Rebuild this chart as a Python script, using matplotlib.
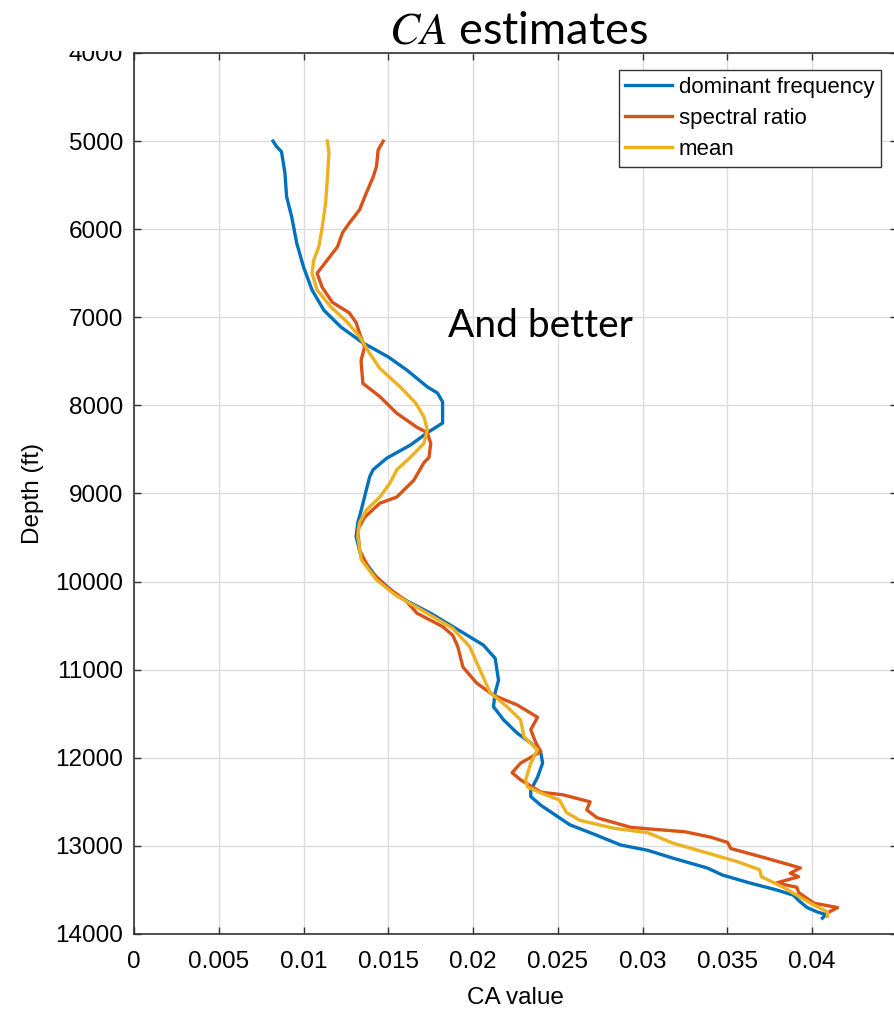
import matplotlib
matplotlib.use("Agg")
import matplotlib.pyplot as plt
from matplotlib.patches import Rectangle

plt.rcParams['font.family'] = ['Liberation Sans', 'DejaVu Sans']
plt.rcParams['mathtext.fontset'] = 'stix'

# dominant frequency (blue)
dom_depth = [5000, 5060, 5120, 5360, 5630, 5860, 6160, 6430, 6690, 6920, 7110, 7290,
             7450, 7600, 7790, 7860, 7960, 8090, 8200, 8310, 8450, 8600, 8730, 8810,
             8960, 9190, 9330, 9490, 9720, 9950, 10170, 10360, 10580, 10720, 10870,
             11120, 11260, 11420, 11570, 11720, 11830, 11950, 12060, 12220, 12370,
             12440, 12540, 12630, 12760, 12880, 12990, 13050, 13140, 13250, 13330,
             13420, 13500, 13560, 13620, 13700, 13750, 13780, 13820]
dom_ca = [0.0082, 0.0084, 0.0087, 0.0089, 0.0090, 0.0093, 0.0096, 0.0100, 0.0105, 0.0112,
          0.0122, 0.0135, 0.0150, 0.0161, 0.0173, 0.0179, 0.0182, 0.0182, 0.0182, 0.0173,
          0.0163, 0.0149, 0.0141, 0.0139, 0.0137, 0.0134, 0.0132, 0.0131, 0.0134, 0.0143,
          0.0156, 0.0175, 0.0194, 0.0206, 0.0213, 0.0215, 0.0213, 0.0212, 0.0218, 0.0226,
          0.0234, 0.0240, 0.0241, 0.0238, 0.0234, 0.0234, 0.0240, 0.0247, 0.0257, 0.0273,
          0.0287, 0.0303, 0.0318, 0.0338, 0.0347, 0.0363, 0.0379, 0.0389, 0.0392, 0.0397,
          0.0403, 0.0408, 0.0406]

# spectral ratio (red)
spec_depth = [5000, 5100, 5290, 5410, 5590, 5780, 5930, 6040, 6200, 6350, 6500, 6660,
              6830, 6950, 7060, 7180, 7340, 7480, 7520, 7750, 7900, 8090, 8250, 8310,
              8430, 8590, 8650, 8850, 9040, 9110, 9270, 9410, 9640, 9870, 10060, 10210,
              10360, 10510, 10610, 10740, 10970, 11150, 11290, 11400, 11540, 11680, 11830,
              11930, 12060, 12170, 12250, 12390, 12420, 12500, 12590, 12680, 12790, 12840,
              12900, 12960, 13030, 13140, 13250, 13310, 13350, 13420, 13470, 13530, 13650,
              13700, 13760]
spec_ca = [0.0147, 0.0144, 0.0143, 0.0141, 0.0137, 0.0133, 0.0127, 0.0123, 0.0120, 0.0114,
           0.0108, 0.0111, 0.0117, 0.0127, 0.0131, 0.0133, 0.0136, 0.0134, 0.0134, 0.0135,
           0.0145, 0.0155, 0.0167, 0.0173, 0.0175, 0.0174, 0.0171, 0.0165, 0.0155, 0.0145,
           0.0136, 0.0132, 0.0133, 0.0139, 0.0149, 0.0160, 0.0167, 0.0182, 0.0188, 0.0191,
           0.0194, 0.0202, 0.0212, 0.0226, 0.0238, 0.0234, 0.0237, 0.0240, 0.0228, 0.0223,
           0.0228, 0.0240, 0.0253, 0.0269, 0.0267, 0.0273, 0.0293, 0.0325, 0.0340, 0.0350,
           0.0352, 0.0373, 0.0393, 0.0387, 0.0392, 0.0379, 0.0391, 0.0392, 0.0401, 0.0415,
           0.0409]

# mean (yellow)
mean_depth = [5000, 5130, 5440, 5700, 5980, 6200, 6350, 6500, 6690, 6880, 7060, 7220,
              7410, 7580, 7790, 7970, 8130, 8280, 8430, 8590, 8730, 8880, 9040, 9190,
              9330, 9490, 9750, 9980, 10150, 10360, 10530, 10740, 11000, 11260, 11420,
              11570, 11760, 11910, 12060, 12250, 12330, 12400, 12480, 12620, 12710, 12800,
              12850, 12970, 13080, 13180, 13270, 13350, 13470, 13560, 13650, 13750, 13800]
mean_ca = [0.0114, 0.0115, 0.0114, 0.0113, 0.0111, 0.0109, 0.0106, 0.0105, 0.0108, 0.0116,
           0.0126, 0.0133, 0.0139, 0.0145, 0.0157, 0.0166, 0.0171, 0.0173, 0.0171, 0.0163,
           0.0155, 0.0151, 0.0145, 0.0137, 0.0133, 0.0132, 0.0134, 0.0143, 0.0154, 0.0173,
           0.0188, 0.0198, 0.0204, 0.0210, 0.0220, 0.0228, 0.0230, 0.0238, 0.0234, 0.0231,
           0.0232, 0.0240, 0.0251, 0.0255, 0.0263, 0.0283, 0.0303, 0.0318, 0.0338, 0.0356,
           0.0369, 0.0370, 0.0383, 0.0391, 0.0399, 0.0409, 0.0409]

W, H = 894, 1011
fig = plt.figure(figsize=(W / 100, H / 100), dpi=100)
ax = fig.add_axes([134 / W, (H - 934) / H, 763 / W, 881 / H])

ax.plot(dom_ca, dom_depth, color='#0072BD', lw=2.4, label='dominant frequency')
ax.plot(spec_ca, spec_depth, color='#D95319', lw=2.4, label='spectral ratio')
ax.plot(mean_ca, mean_depth, color='#EDB120', lw=2.4, label='mean')

ax.set_xlim(0, 0.045)
ax.set_ylim(14000, 4000)
ax.set_xticks([0, 0.005, 0.01, 0.015, 0.02, 0.025, 0.03, 0.035, 0.04])
ax.set_xticklabels(['0', '0.005', '0.01', '0.015', '0.02', '0.025', '0.03', '0.035', '0.04'])
ax.set_yticks(range(4000, 14001, 1000))
ax.grid(True, color='#dcdcdc', lw=1)
ax.set_axisbelow(True)
ax.tick_params(direction='in', length=5, width=1, top=True, right=True,
               labelsize=17.5, color='#333333', pad=8)
ax.tick_params(axis='x', pad=12)
for s in ax.spines.values():
    s.set_color('#333333')
    s.set_linewidth(1.2)

ax.set_xlabel('CA value', fontsize=17.5, labelpad=10)
ax.set_ylabel('Depth (ft)', fontsize=17.5, labelpad=8)

ax.text(0.0185, 7100, 'And better', fontsize=28, family='Lato', va='center', ha='left')

leg = ax.legend(loc='upper right', bbox_to_anchor=(0.979, 0.9807), borderaxespad=0,
                fontsize=16, fancybox=False, framealpha=1, edgecolor='#333333',
                handlelength=2.1, handletextpad=0.3, labelspacing=0.46, borderpad=0.3)
leg.get_frame().set_linewidth(1.0)

# white slide box behind the title hides the top of the axes labels
fig.patches.append(Rectangle((0, (H - 51) / H), 1, 51 / H, transform=fig.transFigure,
                             facecolor='white', edgecolor='none', zorder=1))
fig.text(518 / W, (H - 43) / H, r'$CA$ estimates', fontsize=32.5, family='Lato',
         ha='center', va='baseline', zorder=2)

fig.savefig('out.png', dpi=100)
